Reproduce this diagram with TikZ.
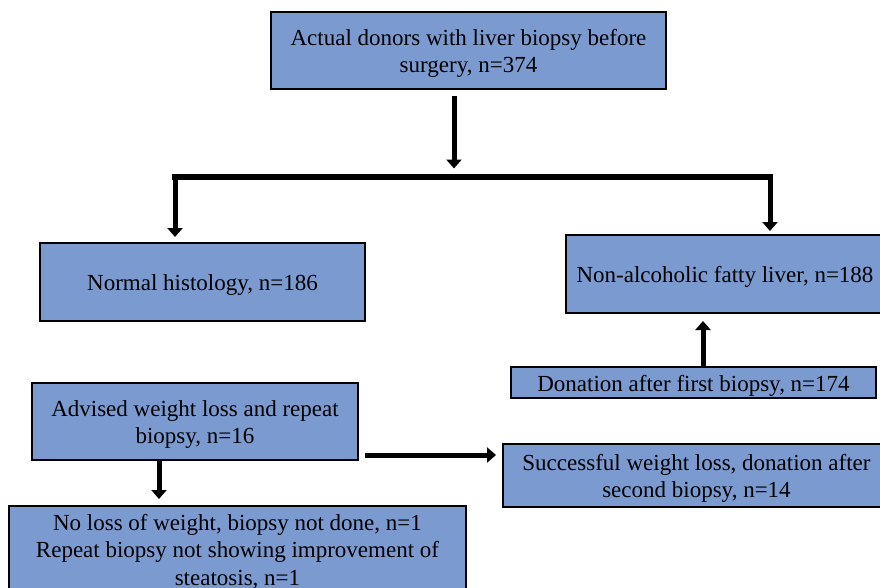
\documentclass[tikz,border=0pt]{standalone}
\usepackage{fontspec}
\setmainfont{Liberation Serif}
\usetikzlibrary{arrows.meta}
\definecolor{boxblue}{RGB}{122,154,208}
\newcommand{\boxtext}[1]{\raisebox{-3pt}[\height][\depth]{\begin{tabular}{@{}c@{}}#1\end{tabular}}}
\tikzset{
  flowbox/.style={draw=black, line width=2pt, fill=boxblue, inner sep=0pt,
    font=\fontsize{23}{27.5}\selectfont},
  arr/.style={line width=5pt, -{Triangle[width=15pt,length=9pt]}},
  barline/.style={line width=6pt}
}
\begin{document}
\begin{tikzpicture}[x=1pt,y=-1pt]
\useasboundingbox (0,0) rectangle (880,587);
\begin{scope}
\clip (0,0) rectangle (880,587);
\node[flowbox, minimum width=395pt, minimum height=77pt] (top) at (468.5,50.5)
  {\boxtext{Actual donors with liver biopsy before\\surgery, n=374}};
\node[flowbox, minimum width=325pt, minimum height=78pt] (normal) at (202.5,282)
  {\boxtext{Normal histology, n=186}};
\node[flowbox, minimum width=318pt, minimum height=78pt] (nafl) at (725,274)
  {\boxtext{Non-alcoholic fatty liver, n=188}};
\node[flowbox, minimum width=365pt, minimum height=31pt] (donation) at (693.5,382.5)
  {\boxtext{Donation after first biopsy, n=174}};
\node[flowbox, minimum width=326pt, minimum height=77pt] (advised) at (195,421.5)
  {\boxtext{Advised weight loss and repeat\\biopsy, n=16}};
\node[flowbox, minimum width=387pt, minimum height=63pt] (success) at (696.5,475.5)
  {\boxtext{Successful weight loss, donation after\\second biopsy, n=14}};
\node[flowbox, minimum width=457pt, minimum height=86pt] (nogain) at (237.5,549)
  {\boxtext{No loss of weight, biopsy not done, n=1\\Repeat biopsy not showing improvement of\\steatosis, n=1}};
\end{scope}
% connectors
\coordinate (j) at (454,176.5);
\coordinate (bL) at (175,176.5);
\coordinate (bR) at (770,176.5);
\coordinate (xA) at (703,0);
\coordinate (xB) at (159,0);
\coordinate (yC) at (0,455);
\draw[arr, shorten <=6pt, shorten >=8pt] (top.south -| j) -- (j);
\draw[barline] ([xshift=-3pt]bL) -- ([xshift=3pt]bR);
\draw[arr, shorten >=5pt] (bL) -- (normal.north -| bL);
\draw[arr, shorten >=3pt] (bR) -- (nafl.north -| bR);
\draw[arr, shorten >=7pt] (donation.north -| xA) -- (nafl.south -| xA);
\draw[arr, shorten >=6pt] (advised.south -| xB) -- (nogain.north -| xB);
\draw[arr, shorten <=6pt, shorten >=6pt] (advised.east |- yC) -- (success.west |- yC);
\end{tikzpicture}
\end{document}
